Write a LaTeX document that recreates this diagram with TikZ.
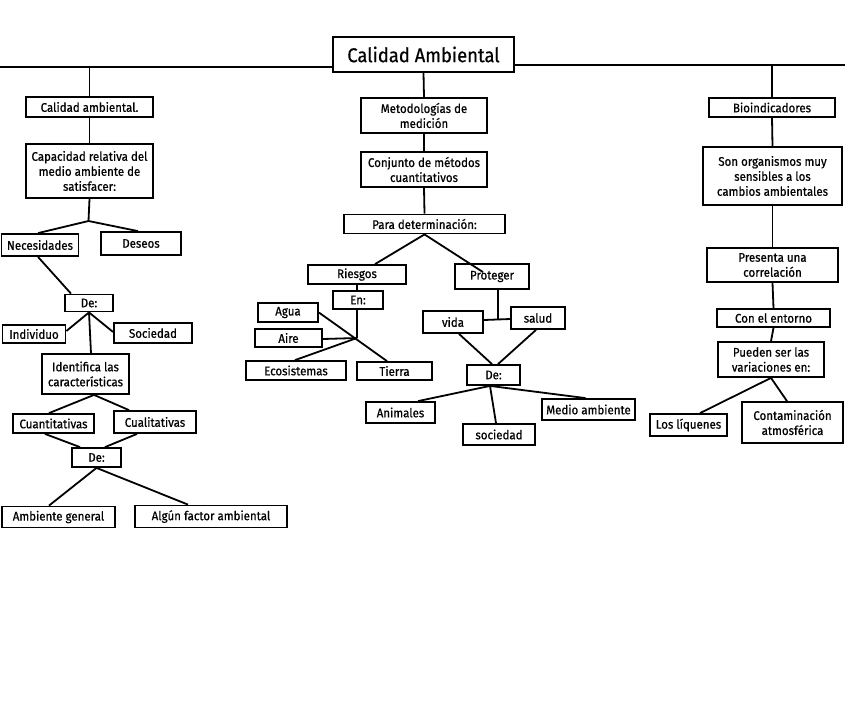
\documentclass[tikz,border=0pt]{standalone}
\usepackage{fontspec}
\setmainfont{Fira Sans}[FakeStretch=0.92,FakeBold=0.6]
\usetikzlibrary{calc}
\tikzset{
  box/.style={draw=black, line width=1.8pt, fill=white, inner sep=0pt, align=center,
    font=\fontsize{12.5}{15}\selectfont},
  conn/.style={draw=black, line width=1.8pt}
}
\begin{document}
\begin{tikzpicture}[x=1pt,y=-1pt]
\useasboundingbox (0,0) rectangle (848,716);
\fill[white] (0,0) rectangle (848,716);
% title
\node[box, minimum width=181pt, minimum height=35pt, font=\fontsize{20}{23}\selectfont] (title) at (423.5,54.5) {Calidad Ambiental};
% left column
\node[box, minimum width=127pt, minimum height=20pt] (calidad) at (89.5,107) {Calidad ambiental.};
\node[box, minimum width=127pt, minimum height=54pt] (capacidad) at (89.5,171) {Capacidad relativa del\\medio ambiente de\\satisfacer:};
\node[box, minimum width=77pt, minimum height=22pt] (necesidades) at (40,245) {Necesidades};
\node[box, minimum width=80pt, minimum height=23pt] (deseos) at (141,243.5) {Deseos};
\node[box, minimum width=48pt, minimum height=17pt] (de1) at (89,303) {De:};
\node[box, minimum width=63pt, minimum height=18pt] (individuo) at (34,334) {Individuo};
\node[box, minimum width=78pt, minimum height=20pt] (sociedad1) at (153,333) {Sociedad};
\node[box, minimum width=87pt, minimum height=40pt] (identifica) at (85.5,374) {Identifica las\\características};
\node[box, minimum width=81pt, minimum height=19pt] (cuant) at (53.5,423.5) {Cuantitativas};
\node[box, minimum width=82pt, minimum height=22pt] (cual) at (155,422) {Cualitativas};
\node[box, minimum width=49pt, minimum height=19pt] (de2) at (96.5,457.5) {De:};
\node[box, minimum width=113pt, minimum height=21pt] (ambiente) at (58.5,517) {Ambiente general};
\node[box, minimum width=152pt, minimum height=22pt] (algun) at (211,516.5) {Algún factor ambiental};
% middle column
\node[box, minimum width=126pt, minimum height=35pt] (metodologias) at (424,115.5) {Metodologías de\\medición};
\node[box, minimum width=126pt, minimum height=35pt] (conjunto) at (424,169.5) {Conjunto de métodos\\cuantitativos};
\node[box, minimum width=161pt, minimum height=19pt] (para) at (424.5,224) {Para determinación:};
\node[box, minimum width=98pt, minimum height=19pt] (riesgos) at (357,274.5) {Riesgos};
\node[box, minimum width=74pt, minimum height=25pt] (proteger) at (492,276.5) {Proteger};
\node[box, minimum width=50pt, minimum height=18pt] (en) at (358,300) {En:};
\node[box, minimum width=60pt, minimum height=19pt] (agua) at (288,312.5) {Agua};
\node[box, minimum width=67pt, minimum height=18pt] (aire) at (288.5,338) {Aire};
\node[box, minimum width=100pt, minimum height=19pt] (ecosistemas) at (296,370.5) {Ecosistemas};
\node[box, minimum width=75pt, minimum height=18pt] (tierra) at (394.5,371) {Tierra};
\node[box, minimum width=60pt, minimum height=22pt] (vida) at (453,322) {vida};
\node[box, minimum width=54pt, minimum height=22pt] (salud) at (538,318) {salud};
\node[box, minimum width=53pt, minimum height=20pt] (de3) at (493.5,375) {De:};
\node[box, minimum width=69pt, minimum height=21pt] (animales) at (400.5,412.5) {Animales};
\node[box, minimum width=72pt, minimum height=21pt] (sociedad2) at (499,434.5) {sociedad};
\node[box, minimum width=93pt, minimum height=21pt] (medio) at (588.5,409.5) {Medio ambiente};
% right column
\node[box, minimum width=126pt, minimum height=19pt] (bio) at (772,107.5) {Bioindicadores};
\node[box, minimum width=139pt, minimum height=58pt] (son) at (772.5,176) {Son organismos muy\\sensibles a los\\cambios ambientales};
\node[box, minimum width=131pt, minimum height=34pt] (presenta) at (772.5,265) {Presenta una\\correlación};
\node[box, minimum width=113pt, minimum height=18pt] (con) at (773.5,318) {Con el entorno};
\node[box, minimum width=106pt, minimum height=35pt] (pueden) at (771,359.5) {Pueden ser las\\variaciones en:};
\node[box, minimum width=77pt, minimum height=22pt] (liquenes) at (688.5,425) {Los líquenes};
\node[box, minimum width=101pt, minimum height=41pt] (contaminacion) at (792.5,422.5) {Contaminación\\atmosférica};
% junctions
\coordinate (hl) at (0,67);
\coordinate (hr) at (845,65);
\coordinate (j1) at (88.5,221);
\coordinate (j2) at (357,338);
\coordinate (j3) at (498,320);
% connectors
\draw[conn] (hl) -- (hl -| title.west);
\draw[conn] (title.east |- hr) -- (hr);
\draw[conn] (hl -| calidad.north) -- (calidad.north);
\draw[conn] (hr -| bio.north) -- (bio.north);
\draw[conn] (title.south) -- (metodologias.north);
% left
\draw[conn] (calidad.south) -- (capacidad.north);
\draw[conn] (capacidad.south) -- (j1);
\draw[conn] ([xshift=-2pt]necesidades.north) -- (j1) -- ([xshift=-3pt]deseos.north);
\draw[conn] ([xshift=-2pt]necesidades.south) -- ([xshift=-18pt]de1.north);
\draw[conn] (de1.south) -- ([yshift=3pt]individuo.east);
\draw[conn] (de1.south) -- ([yshift=1pt]sociedad1.west);
\draw[conn] (de1.south) -- ([xshift=5.5pt]identifica.north);
\draw[conn] ([xshift=-4.5pt]cuant.north) -- ([xshift=8.5pt]identifica.south) -- ([xshift=-26pt]cual.north);
\draw[conn] ([xshift=-8.5pt]cuant.south) -- ([xshift=-16.5pt]de2.north);
\draw[conn] ([xshift=-18pt]cual.south) -- ([xshift=8.5pt]de2.north);
\draw[conn] ([xshift=-9.5pt]ambiente.north) -- (de2.south) -- ([xshift=-23pt]algun.north);
% middle
\draw[conn] (metodologias.south) -- (conjunto.north);
\draw[conn] (conjunto.south) -- (para.north);
\draw[conn] ([xshift=18pt]riesgos.north) -- (para.south) -- ([xshift=-9pt,yshift=-9pt]proteger.north);
\draw[conn] (riesgos.south) -- ([xshift=-1pt]en.north);
\draw[conn] ([xshift=-1pt]en.south) -- (j2);
\draw[conn] (agua.east) -- ([xshift=-7.5pt]tierra.north);
\draw[conn] ([yshift=-1pt]aire.east) -- (j2);
\draw[conn] ([xshift=-1pt]ecosistemas.north) -- (j2);
\draw[conn] ([xshift=6pt]proteger.south) -- (j3);
\draw[conn] ([yshift=2pt]vida.east) -- ([yshift=-1pt]salud.west);
\draw[conn] ([xshift=6pt]vida.south) -- ([xshift=-1.5pt]de3.north);
\draw[conn] ([xshift=-2pt]salud.south) -- ([xshift=4.5pt]de3.north);
\draw[conn] ([xshift=-3.5pt]de3.south) -- ([xshift=17.5pt]animales.north);
\draw[conn] ([xshift=-3.5pt]de3.south) -- ([xshift=-3pt]sociedad2.north);
\draw[conn] ([xshift=-3.5pt]de3.south) -- ([xshift=-3pt]medio.north);
% right
\draw[conn] (bio.south) -- (son.north);
\draw[conn] (son.south) -- (presenta.north);
\draw[conn] (presenta.south) -- (con.north);
\draw[conn] (con.south) -- (pueden.north);
\draw[conn] ([xshift=11.5pt]liquenes.north) -- (pueden.south) -- ([xshift=-5.5pt]contaminacion.north);
\end{tikzpicture}
\end{document}
